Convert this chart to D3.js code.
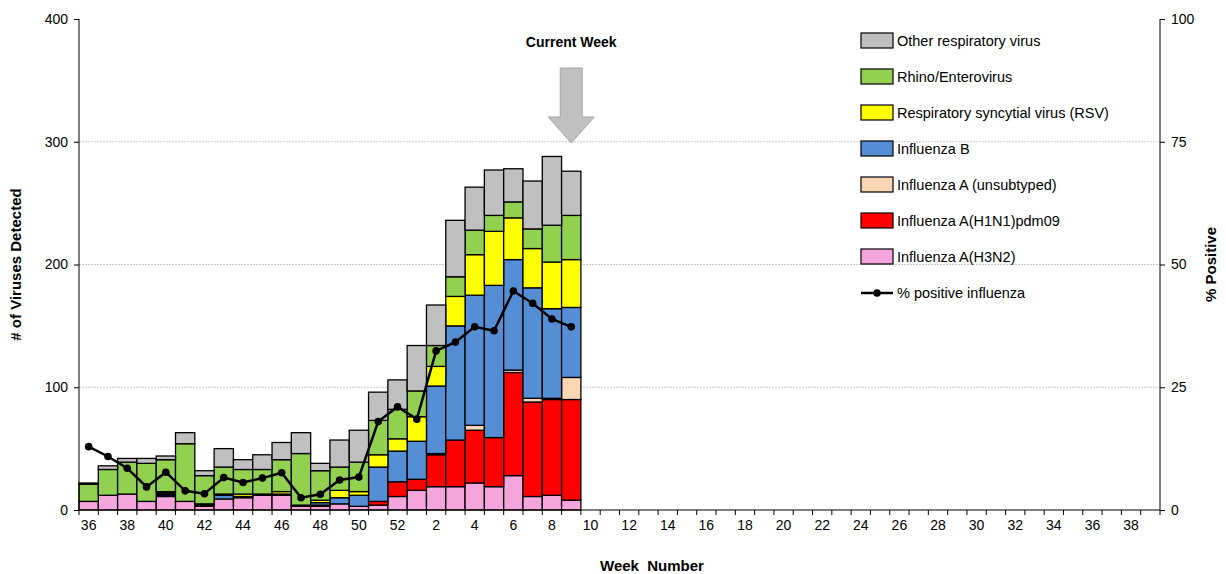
<!DOCTYPE html>
<html><head><meta charset="utf-8">
<script src="https://cdn.jsdelivr.net/npm/d3@7"></script>
<style>body{margin:0;background:#fff;font-family:"Liberation Sans",Arial,sans-serif;}</style>
</head><body><svg id="c" width="1226" height="574"></svg>
<script>
// weeks 36..52 then 1..39
var weeks = d3.range(36, 53).concat(d3.range(1, 40));
var barWeeks = d3.range(36, 53).concat(d3.range(1, 10));
var h3n2    = [7,12,13,7,11,7,3,9,10,12,12,3,3,5,3,4,11,16,19,19,22,19,28,11,12,8];
var h1n1    = [0,0,0,0,1,0,1,0,0,0,0,0,1,0,0,3,12,9,26,38,43,40,84,77,78,82];
var unsub   = [0,0,0,0,1,0,0,0,0,0,0,0,0,0,0,0,0,0,1,0,4,0,2,3,1,18];
var fluB    = [0,0,0,0,1,0,1,3,1,0,1,1,2,5,9,28,25,31,55,93,106,124,90,90,73,57];
var rsv     = [0,0,0,0,1,0,0,1,2,1,2,0,2,6,3,10,10,20,16,24,33,44,34,32,38,39];
var rhino   = [14,21,26,31,26,47,23,22,20,20,26,42,24,19,24,28,24,21,17,16,20,13,13,16,30,36];
var other   = [1,3,3,4,3,9,4,15,8,12,14,17,6,22,26,23,24,37,33,46,35,37,27,39,56,36];
var pctPos  = [12.9,10.9,8.5,4.7,7.7,3.9,3.3,6.6,5.6,6.5,7.6,2.5,3.2,6.1,6.7,18,21,18.5,32.4,34.2,37.3,36.5,44.6,42.1,38.9,37.3];
var currentWeek = 9;

var series = [
  {key:"h3n2", name:"Influenza A(H3N2)", color:"#f4a6dc", vals:h3n2},
  {key:"h1n1", name:"Influenza A(H1N1)pdm09", color:"#ff0000", vals:h1n1},
  {key:"unsub", name:"Influenza A (unsubtyped)", color:"#fcd5b5", vals:unsub},
  {key:"fluB", name:"Influenza B", color:"#558ed5", vals:fluB},
  {key:"rsv", name:"Respiratory syncytial virus (RSV)", color:"#ffff00", vals:rsv},
  {key:"rhino", name:"Rhino/Enterovirus", color:"#92d050", vals:rhino},
  {key:"other", name:"Other respiratory virus", color:"#c0c0c0", vals:other}
];

var svg = d3.select("#c");
var L = 79, R = 1160, T = 19, B = 510;
var x = d3.scaleBand().domain(d3.range(weeks.length)).range([L, R]).padding(0);
var y = d3.scaleLinear().domain([0, 400]).range([B, T]);
var y2 = d3.scaleLinear().domain([0, 100]).range([B, T]);

// grid
svg.append("g").selectAll("line").data([100,200,300]).join("line")
  .attr("x1", L).attr("x2", R).attr("y1", d=>y(d)).attr("y2", d=>y(d))
  .attr("stroke", "#c8c8c8").attr("stroke-dasharray", "2,1");

// stacked bars
var rows = barWeeks.map(function(w, i){
  var o = {i: i};
  series.forEach(function(s){ o[s.key] = s.vals[i]; });
  return o;
});
var stack = d3.stack().keys(series.map(s=>s.key))(rows);
svg.append("g").selectAll("g").data(stack).join("g")
  .attr("fill", (d, k)=>series[k].color)
  .selectAll("rect").data(d=>d).join("rect")
  .attr("x", d=>x(d.data.i)).attr("width", x.bandwidth())
  .attr("y", d=>y(d[1])).attr("height", d=>y(d[0]) - y(d[1]))
  .attr("stroke", "#000").attr("stroke-width", 1.3);

// axes
var fs = "14px";
var yAx = svg.append("g").attr("transform", "translate(" + L + ",0)")
  .call(d3.axisLeft(y).tickValues([0,100,200,300,400]).tickSize(5).tickPadding(6));
var y2Ax = svg.append("g").attr("transform", "translate(" + R + ",0)")
  .call(d3.axisRight(y2).tickValues([0,25,50,75,100]).tickSize(5).tickPadding(6));
var xAx = svg.append("g").attr("transform", "translate(0," + B + ")")
  .call(d3.axisBottom(x).tickSize(0).tickPadding(10).tickFormat(i => (weeks[i] % 2 === 0) ? weeks[i] : ""));
[yAx, y2Ax, xAx].forEach(function(a){
  a.selectAll("text").attr("font-size", fs).attr("font-family", "Liberation Sans, Arial").attr("fill", "#000");
  a.select(".domain").attr("stroke", "#000");
});
yAx.select(".domain").attr("d", "M0," + B + "V" + T);
y2Ax.select(".domain").attr("d", "M0," + B + "V" + T);
xAx.select(".domain").attr("d", "M" + L + ",0H" + R);
// x ticks at band boundaries
svg.append("g").selectAll("line").data(d3.range(weeks.length + 1)).join("line")
  .attr("x1", i => L + i * x.bandwidth()).attr("x2", i => L + i * x.bandwidth())
  .attr("y1", B).attr("y2", B + 5).attr("stroke", "#000");

// % positive line
var line = d3.line().x((d, i)=>x(i) + x.bandwidth()/2).y(d=>y2(d));
svg.append("path").datum(pctPos).attr("d", line).attr("fill", "none").attr("stroke", "#000").attr("stroke-width", 2.5);
svg.append("g").selectAll("circle").data(pctPos).join("circle")
  .attr("cx", (d, i)=>x(i) + x.bandwidth()/2).attr("cy", d=>y2(d)).attr("r", 3.8).attr("fill", "#000");

// titles
svg.append("text").attr("transform", "translate(21," + ((T+B)/2) + ") rotate(-90)")
  .attr("text-anchor", "middle").attr("font-size", "15px").attr("font-weight", "bold").text("# of Viruses Detected");
svg.append("text").attr("transform", "translate(1216," + ((T+B)/2) + ") rotate(-90)")
  .attr("text-anchor", "middle").attr("font-size", "15px").attr("font-weight", "bold").text("% Positive");
svg.append("text").attr("x", 652).attr("y", 571).attr("text-anchor", "middle")
  .attr("font-size", "15px").attr("font-weight", "bold").attr("xml:space", "preserve").text("Week  Number");

// current week marker
var cw = x(barWeeks.indexOf(currentWeek)) + x.bandwidth()/2;
svg.append("text").attr("x", cw).attr("y", 47).attr("text-anchor", "middle")
  .attr("font-size", "14px").attr("font-weight", "bold").text("Current Week");
svg.append("path").attr("d", "M" + (cw-11) + ",68H" + (cw+11) + "V117H" + (cw+23) + "L" + cw + ",143L" + (cw-23) + ",117H" + (cw-11) + "Z")
  .attr("fill", "#c0c0c0").attr("stroke", "#a6a6a6");

// legend
var lg = svg.append("g").attr("transform", "translate(861,33)");
var items = series.slice().reverse();
items.forEach(function(s, k){
  var g = lg.append("g").attr("transform", "translate(0," + (k * 36) + ")");
  g.append("rect").attr("width", 32).attr("height", 15).attr("fill", s.color).attr("stroke", "#000").attr("stroke-width", 1.2);
  g.append("text").attr("x", 36).attr("y", 13).attr("font-size", "14.5px").text(s.name);
});
var gl = lg.append("g").attr("transform", "translate(0," + (7 * 36) + ")");
gl.append("line").attr("x1", 0).attr("x2", 32).attr("y1", 8).attr("y2", 8).attr("stroke", "#000").attr("stroke-width", 2.5);
gl.append("circle").attr("cx", 16).attr("cy", 8).attr("r", 3.8);
gl.append("text").attr("x", 36).attr("y", 13).attr("font-size", "14.5px").text("% positive influenza");
</script></body></html>
